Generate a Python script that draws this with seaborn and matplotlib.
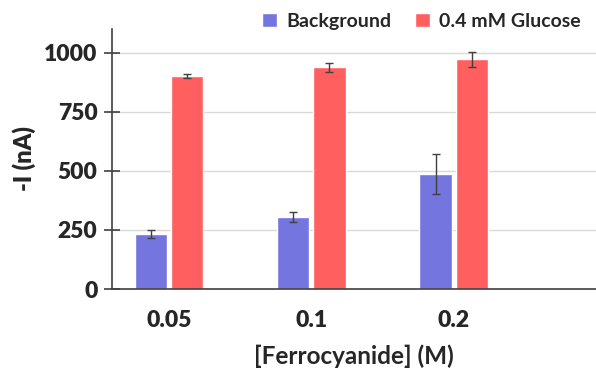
import matplotlib
matplotlib.use("Agg")
import matplotlib.pyplot as plt
import seaborn as sns
import pandas as pd

# values
concentrations = ["0.05", "0.1", "0.2"]
background = [233, 306, 485]
background_err = [17, 22, 85]
glucose = [901, 937, 971]
glucose_err = [10, 20, 32]
series = ["Background", "0.4 mM Glucose"]
colors = ["#7475DE", "#FF5F5F"]

df = pd.DataFrame({
    "conc": concentrations * 2,
    "current": background + glucose,
    "err": background_err + glucose_err,
    "series": [series[0]] * 3 + [series[1]] * 3,
})

sns.set_style("white")
plt.rcParams["font.family"] = ["Lato", "DejaVu Sans"]

fig = plt.figure(figsize=(5.96, 3.75), dpi=100)
ax = fig.add_axes([0.188, 0.229, 0.812, 0.694])

sns.barplot(data=df, x="conc", y="current", hue="series", order=concentrations,
            hue_order=series, palette=colors, width=0.51, gap=0.11,
            errorbar=None, saturation=1, ax=ax, legend=True)

# error bars placed on the drawn bars
for cont, s in zip(ax.containers, series):
    sub = df[df["series"] == s]
    for bar, e in zip(cont, sub["err"]):
        cx = bar.get_x() + bar.get_width() / 2
        ax.errorbar(cx, bar.get_height(), yerr=e, fmt="none", ecolor="#404040",
                    elinewidth=1, capsize=3, capthick=1)

ax.set_ylim(0, 1100)
ax.set_xlim(-0.40, 3.0)
ax.set_yticks([0, 250, 500, 750, 1000])
ax.yaxis.grid(True, color="#d9d9d9", linewidth=1)
ax.set_axisbelow(True)

for side in ["top", "right"]:
    ax.spines[side].set_visible(False)
for side in ["left", "bottom"]:
    ax.spines[side].set_color("#404040")
    ax.spines[side].set_linewidth(1.2)

ax.tick_params(axis="y", direction="inout", length=11, width=1.2, color="#404040",
               left=True, pad=5, labelsize=16.5)
ax.tick_params(axis="x", length=0, pad=15, labelsize=16.5)
for lab in ax.get_xticklabels() + ax.get_yticklabels():
    lab.set_fontweight("heavy")

ax.set_xlabel("[Ferrocyanide] (M)", fontsize=17.5, fontweight="bold", labelpad=10)
ax.set_ylabel("-I (nA)", fontsize=17, fontweight="heavy", labelpad=6)

ax.legend(loc="center", bbox_to_anchor=(0.64, 1.03), ncol=2, frameon=False,
          handlelength=0.75, handleheight=0.75, columnspacing=1.2,
          handletextpad=0.5, prop={"weight": "bold", "size": 14})

fig.savefig("out.png", dpi=100)
